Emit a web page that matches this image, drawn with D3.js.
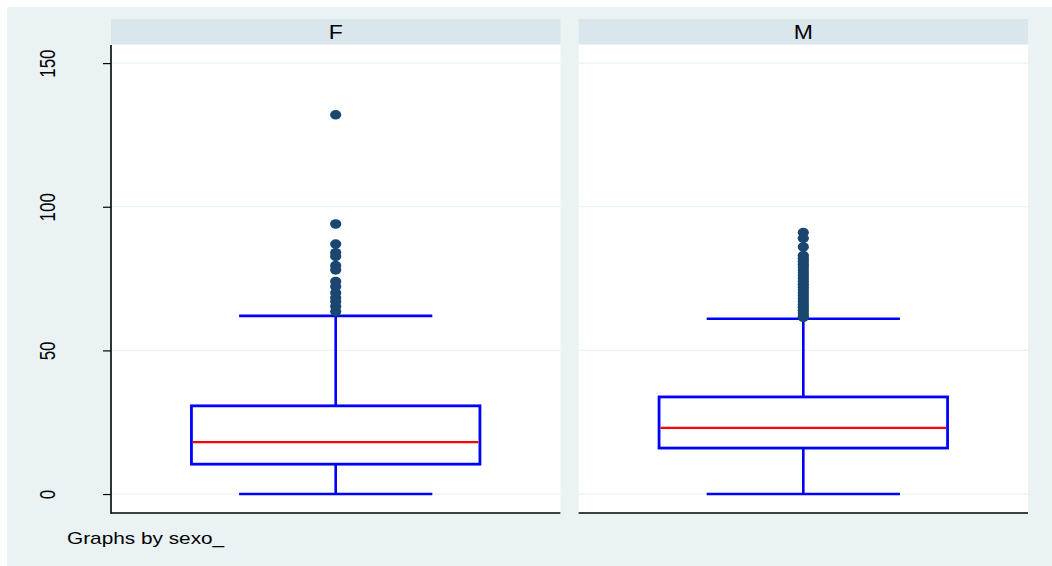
<!DOCTYPE html>
<html>
<head>
<meta charset="utf-8">
<script src="https://cdn.jsdelivr.net/npm/d3@7"></script>
<style>
  html, body { margin: 0; padding: 0; background: #ffffff; }
  svg { display: block; font-family: "Liberation Sans", Arial, sans-serif; }
</style>
</head>
<body>
<svg id="chart" width="1052" height="566"></svg>
<script>
// Panels (by sexo_) and box-plot summaries
const groups = ["F", "M"];
const lowerWhisker = [0, 0];
const quartile1 = [10.4, 16.0];
const medians = [18.1, 23.0];
const quartile3 = [30.7, 33.8];
const upperWhisker = [62.0, 61.0];
const outliersF = [132, 94, 87, 84, 82.7, 79.5, 78, 74, 72.2, 70, 68.3, 67, 65.3, 63.5];
const outliersM = [91, 89, 86, 83, 82, 81, 80, 79, 78, 77, 76, 75, 74, 73, 72, 71, 70, 69,
                   68, 67, 66, 65, 64, 63, 62, 61.5];
const yTicks = [0, 50, 100, 150];
const footnote = "Graphs by sexo_";

const outliers = [outliersF, outliersM];

const svg = d3.select("#chart");
const W = 1052, H = 566;
const stretch = 1.3; // text is drawn wide

const plotTop = 45, plotBottom = 513;
const x = d3.scaleBand().domain(groups).range([111, 1028]).paddingInner(0.039).paddingOuter(0);
const y = d3.scaleLinear().domain([-6.6, 156.3]).range([plotBottom, plotTop]);

// outer graph region
svg.append("rect").attr("x", 7).attr("y", 7).attr("width", W - 7).attr("height", H - 7)
  .attr("fill", "#eaf2f3");

groups.forEach((g, i) => {
  const x0 = x(g), bw = x.bandwidth();
  const cx = x0 + bw / 2;
  const panel = svg.append("g");

  // strip header
  panel.append("rect").attr("x", x0).attr("y", 19).attr("width", bw).attr("height", 25)
    .attr("fill", "#d9e6eb");
  panel.append("text")
    .attr("transform", `translate(${cx},38.5) scale(1.15,1)`)
    .attr("text-anchor", "middle")
    .attr("font-size", 20).attr("fill", "#000").text(g);

  // plot area
  panel.append("rect").attr("x", x0).attr("y", plotTop).attr("width", bw)
    .attr("height", plotBottom - plotTop).attr("fill", "#ffffff");

  // grid lines
  panel.selectAll("line.grid").data(yTicks).enter().append("line")
    .attr("x1", x0).attr("x2", x0 + bw)
    .attr("y1", d => y(d)).attr("y2", d => y(d))
    .attr("stroke", "#eaf2f3").attr("stroke-width", 1.2);

  const boxW = bw * 0.642, capW = bw * 0.43;
  const blue = "#0000ff";

  // whiskers
  panel.append("line").attr("x1", cx).attr("x2", cx)
    .attr("y1", y(quartile1[i])).attr("y2", y(lowerWhisker[i]))
    .attr("stroke", blue).attr("stroke-width", 2.6);
  panel.append("line").attr("x1", cx).attr("x2", cx)
    .attr("y1", y(quartile3[i])).attr("y2", y(upperWhisker[i]))
    .attr("stroke", blue).attr("stroke-width", 2.6);
  [lowerWhisker[i], upperWhisker[i]].forEach(v => {
    panel.append("line").attr("x1", cx - capW / 2).attr("x2", cx + capW / 2)
      .attr("y1", y(v)).attr("y2", y(v))
      .attr("stroke", blue).attr("stroke-width", 2.6);
  });

  // box
  panel.append("rect").attr("x", cx - boxW / 2).attr("y", y(quartile3[i]))
    .attr("width", boxW).attr("height", y(quartile1[i]) - y(quartile3[i]))
    .attr("fill", "#ffffff").attr("stroke", blue).attr("stroke-width", 2.8);
  panel.append("line").attr("x1", cx - boxW / 2 + 1.5).attr("x2", cx + boxW / 2 - 1.5)
    .attr("y1", y(medians[i])).attr("y2", y(medians[i]))
    .attr("stroke", "#ff0000").attr("stroke-width", 2.2);

  // outside values
  panel.selectAll("ellipse.out").data(outliers[i]).enter().append("ellipse")
    .attr("cx", cx).attr("cy", d => y(d)).attr("rx", 5.6).attr("ry", 4.8)
    .attr("fill", "#1a476f");

  // bottom axis line
  panel.append("line").attr("x1", x0).attr("x2", x0 + bw)
    .attr("y1", plotBottom).attr("y2", plotBottom)
    .attr("stroke", "#000").attr("stroke-width", 1.6);
});

// y axis on the first panel
const yAxis = d3.axisLeft(y).tickValues(yTicks).tickSize(8).tickPadding(0).tickFormat(d3.format("d"));
const ax = svg.append("g").attr("transform", `translate(${x(groups[0])},0)`).call(yAxis);
ax.select(".domain").remove();
ax.append("line").attr("x1", 0).attr("x2", 0).attr("y1", plotTop).attr("y2", plotBottom + 0.8)
  .attr("stroke", "#000").attr("stroke-width", 1.6);
ax.selectAll(".tick line").attr("stroke", "#000").attr("stroke-width", 1.2);
ax.selectAll(".tick text")
  .attr("x", 0).attr("y", 0).attr("dy", 0)
  .attr("transform", `translate(-56,0) scale(${stretch},1) rotate(-90)`)
  .attr("text-anchor", "middle").attr("font-size", 17)
  .attr("font-family", "'Liberation Sans', Arial, sans-serif").attr("fill", "#000");

// footnote
svg.append("text")
  .attr("transform", `translate(67,544) scale(${stretch},1)`)
  .attr("font-size", 16).attr("fill", "#000")
  .text(footnote);
</script>
</body>
</html>
